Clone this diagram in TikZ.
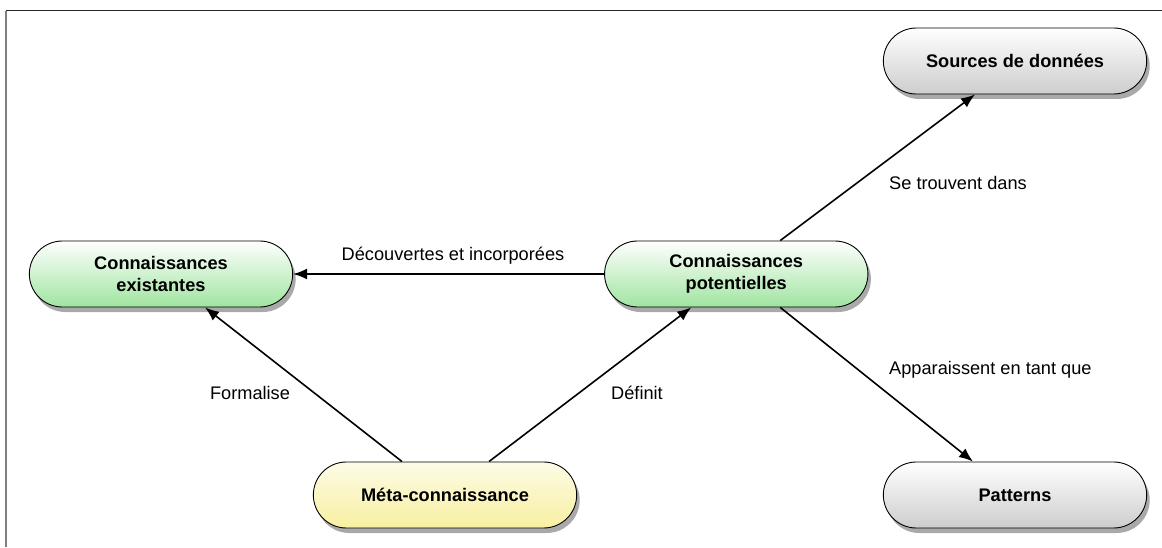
\documentclass[tikz,border=0pt]{standalone}
\usepackage{fontspec}
\setmainfont{Liberation Sans}
\usepackage{tikz}
\usetikzlibrary{positioning, calc, shapes, shadows, arrows.meta}
\usepackage{xcolor}

\definecolor{greenbot}{RGB}{160,228,160}
\definecolor{yellowbot}{RGB}{248,240,160}
\definecolor{graybot}{RGB}{205,205,205}

\begin{document}
\begin{tikzpicture}[x=1pt, y=1pt,
  concept/.style={rounded rectangle, minimum height=66pt, minimum width=270pt, draw=black, line width=0.9pt,
    align=center, font=\fontsize{18.2}{22}\selectfont\bfseries,
    drop shadow={shadow xshift=3pt, shadow yshift=-5pt, fill=black!75, opacity=0.45}},
  known/.style={concept, top color=white, bottom color=greenbot},
  meta/.style={concept, top color=yellowbot!25, bottom color=yellowbot},
  other/.style={concept, top color=white, bottom color=graybot},
  link/.style={-{Latex[length=14pt, width=11pt]}, line width=1.6pt},
  lbl/.style={font=\fontsize{18.2}{22}\selectfont, inner sep=0pt}
]

    % Frame
    \useasboundingbox (0,0) rectangle (1162,547);
    \draw[black!85, line width=1pt] (6,536) -- (1162,536);
    \draw[black!50, line width=1.6pt] (6,536) -- (6,0);

    % Concepts
    \node[known] (exist) at (161,273) {Connaissances\\existantes};
    \node[known, right=311pt of exist] (pot) {Connaissances\\potentielles};
    \node[other] (sources) at (1015,486) {Sources de données};
    \node[other] (patterns) at (1015,52) {Patterns};
    \node[meta] (metak) at (445,52) {Méta-connaissance};

    % Links
    \draw[link] (pot.west) -- (exist.east);
    \draw[link] ([xshift=-43pt]metak.north) -- ([xshift=44pt]exist.south);
    \draw[link] ([xshift=44pt]metak.north) -- ([xshift=-45pt]pot.south);
    \draw[link] ([xshift=44pt]pot.north) -- ([xshift=-40pt]sources.south);
    \draw[link] ([xshift=44pt]pot.south) -- ([xshift=-42pt]patterns.north);

    % Labels
    \node[lbl] (l_disc) at (453,291) {Découvertes et incorporées};
    \node[lbl] (l_form) at (250,154) {Formalise};
    \node[lbl] (l_def) at (637,154) {Définit};
    \node[lbl, anchor=west] (l_src) at (889,364) {Se trouvent dans};
    \node[lbl, anchor=west] (l_pat) at (889,177) {Apparaissent en tant que};

\end{tikzpicture}
\end{document}
